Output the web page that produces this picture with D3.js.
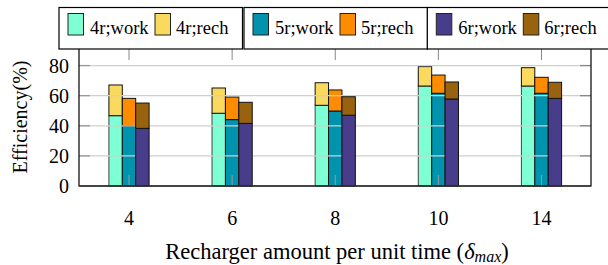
<!DOCTYPE html>
<html><head><meta charset="utf-8">
<script src="https://cdn.jsdelivr.net/npm/d3@7"></script>
<style>body{margin:0;background:#fff}svg{display:block}text{font-family:"Liberation Serif","Tinos","Times New Roman","Times","DejaVu Serif",serif;fill:#000}</style>
</head><body><svg id="c" width="608" height="265"></svg>
<script>
const categories = ["4","6","8","10","14"];
const yTicks = [0,20,40,60,80];
const seriesNames = ["4r","5r","6r"];
const work4 = [46.7,48.3,53.6,66.4,66.4];
const rech4 = [20.4,16.8,15.0,12.9,12.2];
const work5 = [40.1,44.1,49.8,61.6,61.6];
const rech5 = [18.1,15.0,14.0,12.1,10.6];
const work6 = [38.3,41.6,47.0,57.8,58.2];
const rech6 = [16.8,14.0,12.3,11.3,10.7];
const legendLabels = [["4r;work","4r;rech"],["5r;work","5r;rech"],["6r;work","6r;rech"]];
const colors = [["#7fffd4","#f9da5e"],["#0093ae","#ff8c00"],["#483d8b","#99620f"]];

const svg = d3.select("#c");
const L=79, R=591, T=49, B=186;
const x = d3.scalePoint().domain(categories).range([129,541.5]);
const y = d3.scaleLinear().domain([0,91]).range([B,T]);
const bw = 13.4;
const series = [[work4,rech4],[work5,rech5],[work6,rech6]];

function drawSeries(si){
  const g = svg.append("g");
  const [w,r] = series[si];
  categories.forEach((c,i)=>{
    const x0 = x(c) - 1.5*bw + si*bw;
    g.append("rect").attr("x",x0).attr("y",y(w[i])).attr("width",bw).attr("height",y(0)-y(w[i]))
      .attr("fill",colors[si][0]).attr("stroke", si===0?"#444":"#111").attr("stroke-width",1);
    g.append("rect").attr("x",x0).attr("y",y(w[i]+r[i])).attr("width",bw).attr("height",y(w[i])-y(w[i]+r[i]))
      .attr("fill",colors[si][1]).attr("stroke","#111").attr("stroke-width",1);
  });
}
drawSeries(0);
drawSeries(1);
svg.append("g").selectAll("line").data(yTicks.slice(1)).join("line")
  .attr("x1",L).attr("x2",R).attr("y1",d=>y(d)).attr("y2",d=>y(d))
  .attr("stroke","#cfcfcf").attr("stroke-width",1.3);
svg.append("g").selectAll("line").data(categories).join("line")
  .attr("x1",d=>x(d)).attr("x2",d=>x(d)).attr("y1",B).attr("y2",B-11)
  .attr("stroke","#999").attr("stroke-width",1);
drawSeries(2);
svg.append("g").selectAll("line").data(yTicks.slice(1)).join("line")
  .attr("x1",L).attr("x2",L+11).attr("y1",d=>y(d)).attr("y2",d=>y(d)).attr("stroke","#999").attr("stroke-width",1.3);
svg.append("g").selectAll("line").data(yTicks.slice(1)).join("line")
  .attr("x1",R-11).attr("x2",R).attr("y1",d=>y(d)).attr("y2",d=>y(d)).attr("stroke","#888").attr("stroke-width",1.3);
svg.append("g").selectAll("line").data(categories).join("line")
  .attr("x1",d=>x(d)).attr("x2",d=>x(d)).attr("y1",T).attr("y2",T+11).attr("stroke","#888").attr("stroke-width",1);
svg.append("path").attr("d",`M${L},${T}V${B}H${R}V${T}`).attr("fill","none").attr("stroke","#000").attr("stroke-width",1.2);
svg.append("line").attr("x1",L).attr("x2",R).attr("y1",B).attr("y2",B).attr("stroke","#333").attr("stroke-width",1.6);

svg.append("g").selectAll("text").data(yTicks).join("text")
  .attr("x",69).attr("y",d=>y(d)).attr("dy","0.35em").attr("text-anchor","end")
  .style("font-size","20px").text(d=>d);
svg.append("g").selectAll("text").data(categories).join("text")
  .attr("x",d=>x(d)).attr("y",225).attr("text-anchor","middle")
  .style("font-size","20px").text(d=>d);
svg.append("text").attr("transform","translate(27,117) rotate(-90)").attr("text-anchor","middle")
  .style("font-size","20px").text("Efficiency(%)");
const xl = svg.append("text").attr("x",337).attr("y",259).attr("text-anchor","middle").style("font-size","22.5px");
xl.append("tspan").text("Recharger amount per unit time (");
xl.append("tspan").style("font-style","italic").text("δ");
xl.append("tspan").style("font-style","italic").style("font-size","16px").attr("dy",3).text("max");
xl.append("tspan").attr("dy",-3).text(")");

const boxX = [59,244,427.3];
seriesNames.forEach((s,i)=>{
  const g = svg.append("g").attr("transform",`translate(${boxX[i]},7.5)`);
  g.append("rect").attr("x",0).attr("y",0).attr("width",183.5).attr("height",41.5).attr("fill","#fff").attr("stroke","#000").attr("stroke-width",1.2);
  [[9,31],[96,117]].forEach(([sx,tx],j)=>{
    g.append("rect").attr("x",sx).attr("y",6).attr("width",15.5).attr("height",21.5).attr("fill",colors[i][j]).attr("stroke","#222").attr("stroke-width",1);
    g.append("text").attr("x",tx).attr("y",26.5).style("font-size","18.5px").text(legendLabels[i][j]);
  });
});
</script></body></html>
